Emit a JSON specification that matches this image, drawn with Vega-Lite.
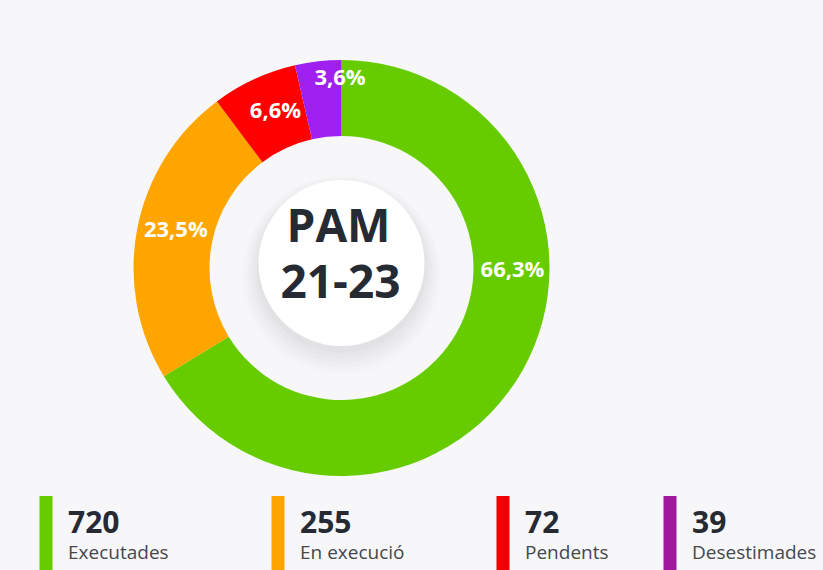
{
  "$schema": "https://vega.github.io/schema/vega-lite/v6.json",
  "background": "#f7f7f9",
  "padding": {"left": 0, "top": 58, "right": 0, "bottom": 0},
  "config": {"view": {"stroke": null}, "font": "Open Sans"},
  "datasets": {
    "estats": [
      {"estat": "Executades", "n": 720, "pct": "66,3%", "ordre": 1},
      {"estat": "En execució", "n": 255, "pct": "23,5%", "ordre": 2},
      {"estat": "Pendents", "n": 72, "pct": "6,6%", "ordre": 3},
      {"estat": "Desestimades", "n": 39, "pct": "3,6%", "ordre": 4}
    ],
    "centre": [{"l1": "PAM", "l2": "21-23"}]
  },
  "data": {"name": "estats"},
  "spacing": 11,
  "vconcat": [
    {
      "width": 683,
      "height": 420,
      "layer": [
        {"data": {"name": "centre"}, "mark": {"type": "arc", "outerRadius": 100, "innerRadius": 0, "fill": "#000000", "opacity": 0.008, "yOffset": 7}, "encoding": {}},
        {"data": {"name": "centre"}, "mark": {"type": "arc", "outerRadius": 97, "innerRadius": 0, "fill": "#000000", "opacity": 0.01, "yOffset": 6}, "encoding": {}},
        {"data": {"name": "centre"}, "mark": {"type": "arc", "outerRadius": 94, "innerRadius": 0, "fill": "#000000", "opacity": 0.012, "yOffset": 5}, "encoding": {}},
        {"data": {"name": "centre"}, "mark": {"type": "arc", "outerRadius": 91, "innerRadius": 0, "fill": "#000000", "opacity": 0.014, "yOffset": 4}, "encoding": {}},
        {"data": {"name": "centre"}, "mark": {"type": "arc", "outerRadius": 88, "innerRadius": 0, "fill": "#000000", "opacity": 0.016, "yOffset": 2}, "encoding": {}},
        {"data": {"name": "centre"}, "mark": {"type": "arc", "outerRadius": 85, "innerRadius": 0, "fill": "#000000", "opacity": 0.02, "yOffset": 0}, "encoding": {}},
        {"data": {"name": "centre"}, "mark": {"type": "arc", "outerRadius": 83, "innerRadius": 0, "fill": "#ffffff", "yOffset": -5}, "encoding": {}},
        {
          "mark": {"type": "arc", "outerRadius": 208, "innerRadius": 132},
          "encoding": {
            "theta": {"field": "n", "type": "quantitative", "stack": true},
            "order": {"field": "ordre", "type": "quantitative"},
            "color": {
              "field": "estat", "type": "nominal", "legend": null,
              "scale": {"domain": ["Executades", "En execució", "Pendents", "Desestimades"], "range": ["#66cc00", "#ffa500", "#ff0000", "#a020f0"]}
            }
          }
        },
        {
          "mark": {"type": "text", "radius": 170, "thetaOffset": 0.035, "fontSize": 22, "fontWeight": "bold", "fill": "#ffffff", "align": "center", "baseline": "middle"},
          "encoding": {
            "theta": {"field": "n", "type": "quantitative", "stack": true},
            "order": {"field": "ordre", "type": "quantitative"},
            "text": {"condition": {"test": "datum.ordre == 2 || datum.ordre == 3", "field": "pct", "type": "nominal"}, "value": ""}
          }
        },
        {
          "mark": {"type": "text", "radius": 171, "thetaOffset": -0.4997, "fontSize": 22, "fontWeight": "bold", "fill": "#ffffff", "align": "center", "baseline": "middle"},
          "encoding": {
            "theta": {"field": "n", "type": "quantitative", "stack": true},
            "order": {"field": "ordre", "type": "quantitative"},
            "text": {"condition": {"test": "datum.ordre == 1", "field": "pct", "type": "nominal"}, "value": ""}
          }
        },
        {
          "mark": {"type": "text", "radius": 190, "thetaOffset": 0.105, "fontSize": 22, "fontWeight": "bold", "fill": "#ffffff", "align": "center", "baseline": "middle"},
          "encoding": {
            "theta": {"field": "n", "type": "quantitative", "stack": true},
            "order": {"field": "ordre", "type": "quantitative"},
            "text": {"condition": {"test": "datum.ordre == 4", "field": "pct", "type": "nominal"}, "value": ""}
          }
        },
        {
          "data": {"name": "centre"},
          "mark": {"type": "text", "fontSize": 46, "fontWeight": "bold", "fill": "#262a33", "align": "center", "baseline": "middle", "dx": -3, "dy": -40},
          "encoding": {"text": {"field": "l1", "type": "nominal"}}
        },
        {
          "data": {"name": "centre"},
          "mark": {"type": "text", "fontSize": 46, "fontWeight": "bold", "fill": "#262a33", "align": "center", "baseline": "middle", "dx": -1, "dy": 16},
          "encoding": {"text": {"field": "l2", "type": "nominal"}}
        }
      ]
    },
    {
      "width": 823,
      "height": 75,
      "encoding": {
        "x": {"field": "ordre", "type": "quantitative", "axis": null, "scale": {"domain": [1, 2, 3, 4], "range": [46, 278, 503, 670]}}
      },
      "layer": [
        {
          "mark": {"type": "rule", "strokeWidth": 13},
          "encoding": {
            "stroke": {
              "field": "estat", "type": "nominal", "legend": null,
              "scale": {"domain": ["Executades", "En execució", "Pendents", "Desestimades"], "range": ["#66cc00", "#ffa500", "#f00000", "#a0189e"]}
            }
          }
        },
        {
          "mark": {"type": "text", "align": "left", "baseline": "alphabetic", "dx": 22, "dy": -1, "fontSize": 30, "fontWeight": "bold", "fill": "#262a33"},
          "encoding": {"text": {"field": "n", "type": "nominal"}}
        },
        {
          "mark": {"type": "text", "align": "left", "baseline": "alphabetic", "dx": 22, "dy": 25, "fontSize": 19, "fill": "#44474e"},
          "encoding": {"text": {"field": "estat", "type": "nominal"}}
        }
      ]
    }
  ]
}
